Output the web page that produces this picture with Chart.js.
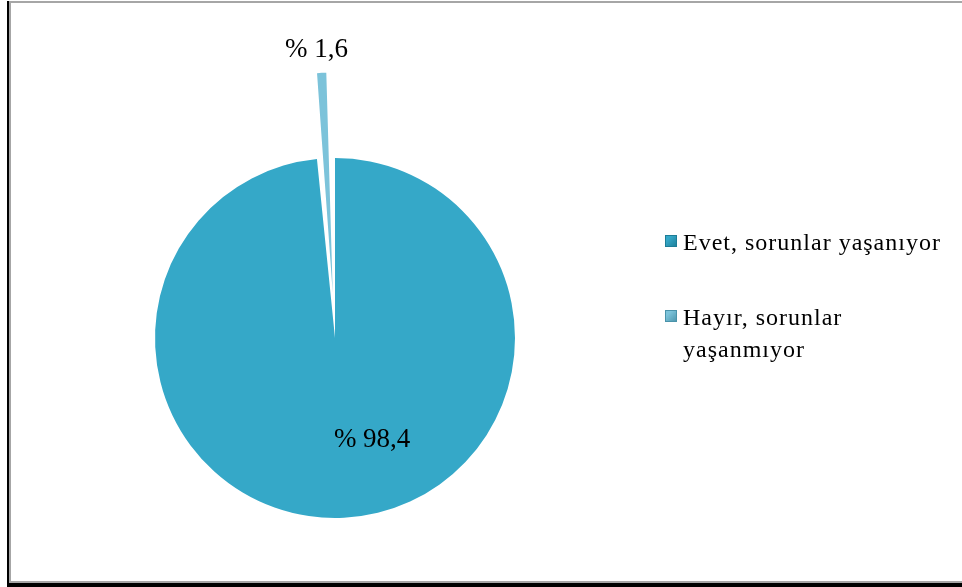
<!DOCTYPE html>
<html>
<head>
<meta charset="utf-8">
<script src="https://cdn.jsdelivr.net/npm/chart.js@4/dist/chart.umd.min.js"></script>
<style>
  html, body { margin: 0; padding: 0; background: #fff; }
  body { width: 962px; height: 587px; position: relative; overflow: hidden; }
  .frame { position: absolute; left: 7px; top: 1px; right: -20px; bottom: 0; border-left: 2px solid #000; border-bottom: 4px solid #000; }
  .frame-inner { position: absolute; left: 0; top: 0; right: 0; bottom: 0; border: 2px solid #a6a6a6; border-right: none; }
  #chartWrap { position: absolute; left: 0; top: 0; width: 962px; height: 587px; }
  .legend { position: absolute; left: 665px; top: 226px; font-family: "Liberation Serif", "Times New Roman", serif; font-size: 24px; letter-spacing: 1px; color: #000; }
  .legend-item { display: flex; align-items: flex-start; line-height: 32px; margin-bottom: 43px; }
  .legend-box { width: 12px; height: 12px; margin-top: 9px; margin-right: 6px; flex: none; }
  .legend-text { width: 280px; }
</style>
</head>
<body>
<div class="frame"><div class="frame-inner"></div></div>
<div id="chartWrap"><canvas id="pieCanvas" width="962" height="587"></canvas></div>
<div class="legend" id="legend"></div>
<script>
// 回答データ
const categories = ['Evet, sorunlar yaşanıyor', 'Hayır, sorunlar yaşanmıyor'];
const legendLines = [['Evet, sorunlar yaşanıyor'], ['Hayır, sorunlar', 'yaşanmıyor']];
const percentValues = [98.4, 1.6];
const sliceColors = ['#35a8c8', '#7cc3da'];
const edgeColors = ['#1d7d97', '#4a93aa'];

function formatPercent(v) {
  return '% ' + v.toFixed(1).replace('.', ',');
}

// スライスのラベル
const sliceLabelPlugin = {
  id: 'sliceLabels',
  afterDatasetsDraw(chart, args, opts) {
    const ctx = chart.ctx;
    const meta = chart.getDatasetMeta(0);
    ctx.save();
    ctx.font = '27px "Liberation Serif", "Times New Roman", serif';
    ctx.fillStyle = '#000';
    ctx.textAlign = 'center';
    ctx.textBaseline = 'middle';
    meta.data.forEach((arc, i) => {
      const mid = (arc.startAngle + arc.endAngle) / 2;
      // ArcElement は offset の半分だけ移動して描かれる
      const off = (arc.options.offset || 0) / 2;
      const dist = off + arc.outerRadius * opts.radial[i];
      const x = arc.x + Math.cos(mid) * dist + opts.shiftX[i];
      const y = arc.y + Math.sin(mid) * dist;
      ctx.fillText(formatPercent(percentValues[i]), x, y);
    });
    ctx.restore();
  }
};

function sliceFill(context) {
  const arc = context.element;
  const i = context.dataIndex;
  if (!arc || !arc.outerRadius) return sliceColors[i];
  const g = context.chart.ctx.createRadialGradient(arc.x, arc.y, 0, arc.x, arc.y, arc.outerRadius);
  g.addColorStop(0, sliceColors[i]);
  g.addColorStop(0.94, sliceColors[i]);
  g.addColorStop(1, edgeColors[i]);
  return g;
}

const ctx = document.getElementById('pieCanvas').getContext('2d');
new Chart(ctx, {
  type: 'pie',
  data: {
    labels: categories,
    datasets: [{
      data: percentValues,
      backgroundColor: sliceFill,
      borderWidth: 0,
      offset: [0, 180]
    }]
  },
  options: {
    responsive: false,
    animation: false,
    radius: 180,
    layout: { padding: { left: 155, right: 447, top: 158, bottom: 69 } },
    plugins: {
      legend: { display: false },
      tooltip: { enabled: false },
      sliceLabels: { radial: [0.567, 1.1], shiftX: [32, -4] }
    }
  },
  plugins: [sliceLabelPlugin]
});

// 凡例
const legendEl = document.getElementById('legend');
legendLines.forEach((lines, i) => {
  const item = document.createElement('div');
  item.className = 'legend-item';
  item.innerHTML = `<div class="legend-box" style="background: linear-gradient(135deg, ${sliceColors[i]} 30%, ${edgeColors[i]}); box-shadow: inset 0 0 0 1px ${edgeColors[i]};"></div>` +
    `<div class="legend-text">${lines.join('<br>')}</div>`;
  legendEl.appendChild(item);
});
</script>
</body>
</html>
